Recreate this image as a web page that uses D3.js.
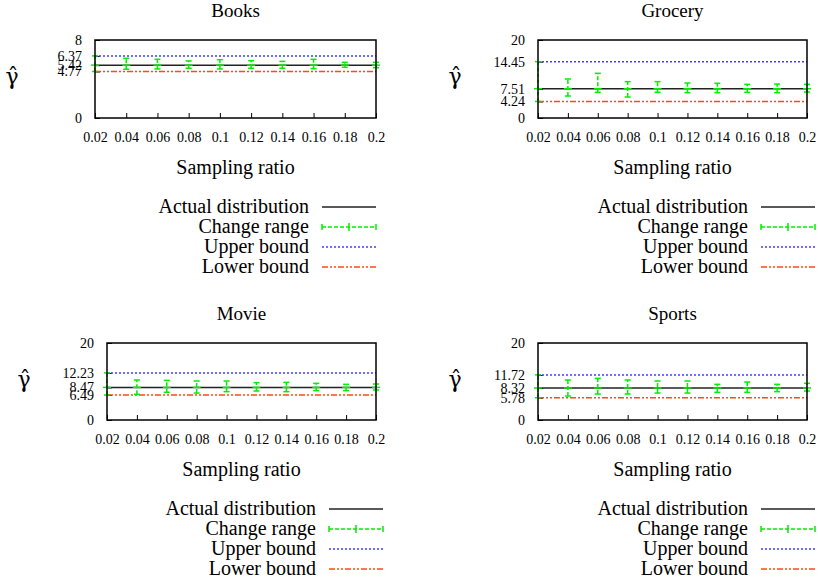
<!DOCTYPE html>
<html>
<head>
<meta charset="utf-8">
<script src="https://cdn.jsdelivr.net/npm/d3@7"></script>
<style>
  body { margin: 0; background: #fff; }
</style>
</head>
<body>
<script>
// data
var categories = ["Books", "Grocery", "Movie", "Sports"];
var ratios = [0.02, 0.04, 0.06, 0.08, 0.1, 0.12, 0.14, 0.16, 0.18, 0.2];
var actual = [5.42, 7.51, 8.47, 8.32];
var upper = [6.37, 14.45, 12.23, 11.72];
var lower = [4.77, 4.24, 6.49, 5.78];
var yMax = [8, 20, 20, 20];

// change range per sampling ratio (first point spans lower..upper)
var booksLow    = [4.77, 5.0, 5.03, 5.1, 5.03, 5.1, 5.1, 5.06, 5.2, 5.16];
var booksHigh   = [6.37, 6.12, 6.02, 5.85, 5.98, 5.88, 5.81, 6.02, 5.71, 5.71];
var groceryLow  = [4.24, 5.64, 6.58, 5.38, 6.58, 6.5, 6.5, 6.58, 6.5, 6.67];
var groceryHigh = [14.45, 10.0, 11.45, 9.32, 9.32, 8.97, 8.9, 8.63, 8.7, 8.63];
var movieLow    = [6.49, 6.68, 7.2, 7.0, 7.36, 7.53, 7.36, 7.62, 7.62, 7.8];
var movieHigh   = [12.23, 10.39, 10.3, 10.13, 10.13, 9.7, 9.78, 9.52, 9.26, 9.35];
var sportsLow   = [5.78, 6.23, 6.75, 6.75, 7.0, 7.0, 7.19, 7.19, 7.36, 7.53];
var sportsHigh  = [11.72, 10.39, 10.82, 10.39, 10.13, 10.13, 9.26, 9.87, 9.26, 9.52];

var rangeLow = [booksLow, groceryLow, movieLow, sportsLow];
var rangeHigh = [booksHigh, groceryHigh, movieHigh, sportsHigh];

var legendNames = ["Actual distribution", "Change range", "Upper bound", "Lower bound"];

// panel layout (plot box in pixels, legend line end)
var panels = [
  {left: 95,  right: 376, top: 40,  bottom: 118, legendEnd: 376},
  {left: 538, right: 807, top: 40,  bottom: 118, legendEnd: 815},
  {left: 107, right: 376, top: 343, bottom: 420, legendEnd: 383},
  {left: 538, right: 807, top: 343, bottom: 420, legendEnd: 815}
];

var serif = "'Liberation Serif', 'Times New Roman', Times, serif";
var colActual = "#222", colRange = "#00ee00", colUpper = "#4040ff", colLower = "#ff4a10";

var svg = d3.select("body").append("svg")
            .attr("width", 818)
            .attr("height", 583)
            .style("font-family", serif);

categories.forEach(function(name, k) {
  var p = panels[k];
  var g = svg.append("g");

  var x = d3.scaleLinear().domain([0.02, 0.2]).range([p.left, p.right]);
  var y = d3.scaleLinear().domain([0, yMax[k]]).range([p.bottom, p.top]);

  // title
  g.append("text")
   .attr("x", (p.left + p.right) / 2)
   .attr("y", p.top - 23)
   .attr("text-anchor", "middle")
   .style("font-family", serif)
   .style("font-size", "19px")
   .text(name);

  // axes
  var xAxis = d3.axisBottom(x)
                .tickValues(ratios)
                .tickSize(-5)
                .tickPadding(14)
                .tickFormat(d => String(d));
  var yAxis = d3.axisLeft(y)
                .tickValues([0, lower[k], actual[k], upper[k], yMax[k]])
                .tickSize(-5)
                .tickPadding(13)
                .tickFormat(d => String(d));

  var gx = g.append("g")
            .attr("transform", "translate(0," + p.bottom + ")")
            .call(xAxis);
  var gy = g.append("g")
            .attr("transform", "translate(" + p.left + ",0)")
            .call(yAxis);
  [gx, gy].forEach(a => {
    a.attr("font-family", null).attr("font-size", null);
    a.select(".domain").remove();
    a.selectAll("text")
     .style("font-family", serif)
     .style("font-size", "14px")
     .attr("fill", "#000");
    a.selectAll("line").attr("stroke", "#000");
  });

  // y label
  g.append("text")
   .attr("x", p.left - 83)
   .attr("y", (p.top + p.bottom) / 2 + 5)
   .attr("text-anchor", "middle")
   .style("font-family", "'DejaVu Serif', serif")
   .style("font-size", "22px")
   .text("\u03b3\u0302");

  // x label
  g.append("text")
   .attr("x", (p.left + p.right) / 2)
   .attr("y", p.bottom + 56)
   .attr("text-anchor", "middle")
   .style("font-family", serif)
   .style("font-size", "20px")
   .text("Sampling ratio");

  // reference lines
  g.append("line")
   .attr("x1", x(0.02)).attr("x2", x(0.2))
   .attr("y1", y(upper[k])).attr("y2", y(upper[k]))
   .attr("stroke", colUpper).attr("stroke-width", 1.5)
   .attr("stroke-dasharray", "2,2");
  g.append("line")
   .attr("x1", x(0.02)).attr("x2", x(0.2))
   .attr("y1", y(lower[k])).attr("y2", y(lower[k]))
   .attr("stroke", colLower).attr("stroke-width", 1.5)
   .attr("stroke-dasharray", "6,2,2,2,2,2");
  g.append("line")
   .attr("x1", x(0.02)).attr("x2", x(0.2))
   .attr("y1", y(actual[k])).attr("y2", y(actual[k]))
   .attr("stroke", colActual).attr("stroke-width", 1.5);

  // change range error bars
  var bars = g.selectAll(".bar")
              .data(ratios.map((r, i) => ({r: r, lo: rangeLow[k][i], hi: rangeHigh[k][i]})))
              .enter().append("g")
              .attr("class", "bar")
              .attr("stroke", colRange)
              .attr("stroke-width", 1.5);
  bars.append("line")
      .attr("x1", d => x(d.r)).attr("x2", d => x(d.r))
      .attr("y1", d => y(d.lo)).attr("y2", d => y(d.hi))
      .attr("stroke-dasharray", "4,2");
  bars.append("line")
      .attr("x1", d => x(d.r) - 3).attr("x2", d => x(d.r) + 3)
      .attr("y1", d => y(d.lo)).attr("y2", d => y(d.lo));
  bars.append("line")
      .attr("x1", d => x(d.r) - 3).attr("x2", d => x(d.r) + 3)
      .attr("y1", d => y(d.hi)).attr("y2", d => y(d.hi));
  bars.append("line")
      .attr("x1", d => x(d.r) - 4).attr("x2", d => x(d.r) + 4)
      .attr("y1", y(actual[k])).attr("y2", y(actual[k]));

  // plot box
  g.append("rect")
   .attr("x", p.left).attr("y", p.top)
   .attr("width", p.right - p.left).attr("height", p.bottom - p.top)
   .attr("fill", "none").attr("stroke", "#000").attr("stroke-width", 1.5);

  // legend
  var lx2 = p.legendEnd, lx1 = lx2 - 54;
  var leg = g.selectAll(".leg")
             .data(legendNames)
             .enter().append("g")
             .attr("class", "leg")
             .attr("transform", (d, i) => "translate(0," + (p.bottom + 95 + i * 20) + ")");
  leg.append("text")
     .attr("x", lx1 - 13)
     .attr("y", 0)
     .attr("text-anchor", "end")
     .style("font-family", serif)
     .style("font-size", "20px")
     .text(d => d);
  var ly = -6;
  leg.filter((d, i) => i === 0).append("line")
     .attr("x1", lx1).attr("x2", lx2).attr("y1", ly).attr("y2", ly)
     .attr("stroke", colActual).attr("stroke-width", 1.5);
  var lr = leg.filter((d, i) => i === 1).append("g")
              .attr("stroke", colRange).attr("stroke-width", 1.5);
  lr.append("line")
    .attr("x1", lx1).attr("x2", lx2).attr("y1", ly).attr("y2", ly)
    .attr("stroke-dasharray", "4,2");
  lr.append("line")
    .attr("x1", lx1).attr("x2", lx1).attr("y1", ly - 3).attr("y2", ly + 3);
  lr.append("line")
    .attr("x1", lx2).attr("x2", lx2).attr("y1", ly - 3).attr("y2", ly + 3);
  lr.append("line")
    .attr("x1", (lx1 + lx2) / 2).attr("x2", (lx1 + lx2) / 2).attr("y1", ly - 4).attr("y2", ly + 4);
  leg.filter((d, i) => i === 2).append("line")
     .attr("x1", lx1).attr("x2", lx2).attr("y1", ly).attr("y2", ly)
     .attr("stroke", colUpper).attr("stroke-width", 1.5).attr("stroke-dasharray", "2,2");
  leg.filter((d, i) => i === 3).append("line")
     .attr("x1", lx1).attr("x2", lx2).attr("y1", ly).attr("y2", ly)
     .attr("stroke", colLower).attr("stroke-width", 1.5).attr("stroke-dasharray", "6,2,2,2,2,2");
});
</script>
</body>
</html>
